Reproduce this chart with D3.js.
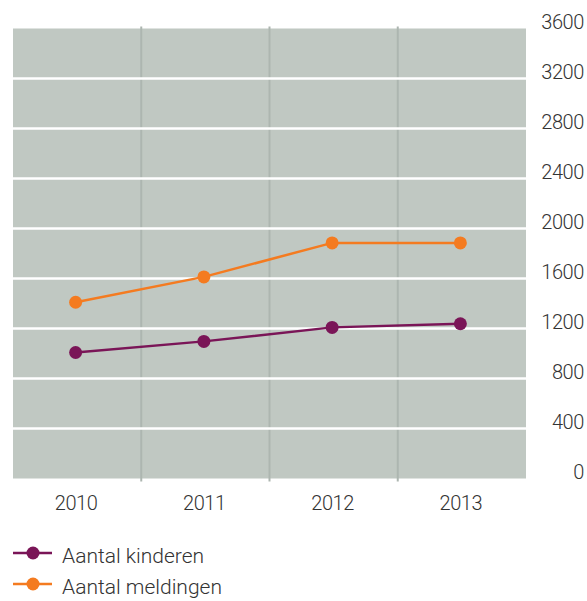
<!DOCTYPE html>
<html>
<head>
<meta charset="utf-8">
<script src="https://cdn.jsdelivr.net/npm/d3@7"></script>
<style>
  html, body { margin: 0; padding: 0; background: #ffffff; }
  svg text { font-family: Roboto, "Noto Sans", sans-serif; font-weight: 300; fill: #333333; }
</style>
</head>
<body>
<svg id="chart" width="587" height="601"></svg>
<script>
// Jaren op de x-as
const years = ["2010", "2011", "2012", "2013"];
// Aantal kinderen per jaar
const kinderen = [1008, 1097, 1209, 1238];
// Aantal meldingen per jaar
const meldingen = [1410, 1613, 1885, 1885];
// Waarden op de y-as
const yTicks = [0, 400, 800, 1200, 1600, 2000, 2400, 2800, 3200, 3600];
const seriesNames = ["Aantal kinderen", "Aantal meldingen"];
const seriesColors = ["#7a1557", "#f47b20"];

const svg = d3.select("#chart");
const plot = { left: 13, right: 526, top: 28.5, bottom: 478.5 };

const x = d3.scaleBand().domain(years).range([plot.left, plot.right]).padding(0);
const y = d3.scaleLinear().domain([0, 3600]).range([plot.bottom, plot.top]);

// Panel background
svg.append("rect")
  .attr("x", plot.left).attr("y", plot.top)
  .attr("width", plot.right - plot.left).attr("height", plot.bottom - plot.top)
  .attr("fill", "#c0c8c2");

// Vertical separators between the years
const seps = years.slice(1).map(d => x(d));
svg.append("g").selectAll("line").data(seps).join("line")
  .attr("x1", d => d).attr("x2", d => d)
  .attr("y1", plot.top - 2).attr("y2", plot.bottom + 3)
  .attr("stroke", "#adb6b0").attr("stroke-width", 2);

// Horizontal white gridlines
svg.append("g").selectAll("line").data(yTicks.filter(v => v > 0 && v < 3600)).join("line")
  .attr("x1", plot.left).attr("x2", plot.right)
  .attr("y1", d => y(d)).attr("y2", d => y(d))
  .attr("stroke", "#ffffff").attr("stroke-width", 2.5);

// Y axis on the right
const yAxis = d3.axisRight(y).tickValues(yTicks).tickFormat(d3.format("d")).tickSize(0).tickPadding(0);
const gy = svg.append("g").attr("transform", `translate(584,0)`).call(yAxis);
gy.select(".domain").remove();
gy.selectAll("text")
  .attr("text-anchor", "end")
  .attr("dy", "0")
  .attr("font-family", null)
  .attr("font-size", null)
  .style("font-size", "20px")
  .style("letter-spacing", "-0.4px")
  .attr("fill", null);

// X axis
const xAxis = d3.axisBottom(x).tickSize(0).tickPadding(0);
const gx = svg.append("g").attr("transform", `translate(0,${plot.bottom})`).call(xAxis);
gx.select(".domain").remove();
gx.selectAll("text")
  .attr("y", 31).attr("dy", "0")
  .attr("dx", "-1")
  .style("font-size", "20px")
  .style("letter-spacing", "-0.4px")
  .attr("fill", null);
gx.attr("font-family", null).attr("font-size", null);
gy.attr("font-family", null).attr("font-size", null);

// Lines and markers
const series = [kinderen, meldingen];
const cx = d => x(d) + x.bandwidth() / 2;
const line = d3.line().x((d, i) => cx(years[i]) - 1.5).y(d => y(d));

series.forEach((vals, s) => {
  svg.append("path")
    .datum(vals)
    .attr("d", line)
    .attr("fill", "none")
    .attr("stroke", seriesColors[s])
    .attr("stroke-width", 2.5);
  svg.append("g").selectAll("circle").data(vals).join("circle")
    .attr("cx", (d, i) => cx(years[i]) - 1.5)
    .attr("cy", d => y(d))
    .attr("r", 6.5)
    .attr("fill", seriesColors[s]);
});

// Legend
const legend = svg.append("g");
seriesNames.forEach((name, i) => {
  const ly = 553 + i * 31;
  legend.append("line")
    .attr("x1", 13).attr("x2", 52).attr("y1", ly).attr("y2", ly)
    .attr("stroke", seriesColors[i]).attr("stroke-width", 2.5);
  legend.append("circle")
    .attr("cx", 33).attr("cy", ly).attr("r", 6.5)
    .attr("fill", seriesColors[i]);
  legend.append("text")
    .attr("x", 62).attr("y", ly + 10)
    .style("font-size", "21px")
    .text(name);
});
</script>
</body>
</html>
